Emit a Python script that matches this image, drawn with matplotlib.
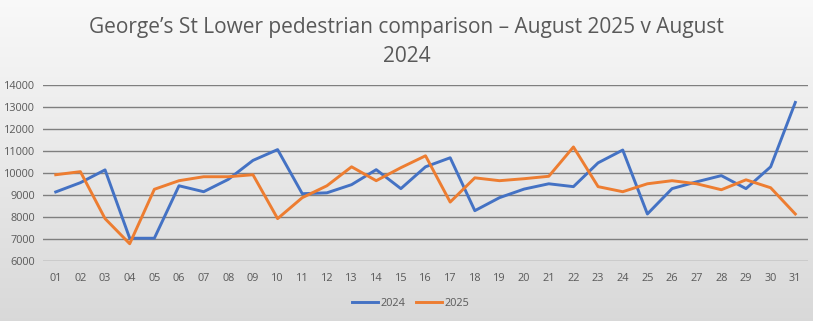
import matplotlib
matplotlib.use("Agg")
import matplotlib.pyplot as plt
import numpy as np
from matplotlib.lines import Line2D

days = ["01","02","03","04","05","06","07","08","09","10","11","12","13","14","15","16",
        "17","18","19","20","21","22","23","24","25","26","27","28","29","30","31"]
y2024 = [9150, 9570, 10150, 7050, 7050, 9430, 9160, 9720, 10580, 11070, 9070, 9110, 9480, 10160,
         9300, 10290, 10700, 8300, 8890, 9280, 9520, 9390, 10470, 11050, 8150, 9300, 9610, 9890,
         9300, 10290, 13210]
y2025 = [9930, 10070, 7940, 6800, 9270, 9660, 9840, 9840, 9930, 7940, 8890, 9430, 10290, 9660,
         10250, 10790, 8690, 9790, 9660, 9750, 9860, 11190, 9390, 9160, 9520, 9660, 9520, 9250,
         9700, 9340, 8150]
series_names = ["2024", "2025"]
yticks = [6000, 7000, 8000, 9000, 10000, 11000, 12000, 13000, 14000]
title = "George\u2019s St Lower pedestrian comparison \u2013 August 2025 v August\n2024"

plt.rcParams['font.family'] = ['Open Sans', 'DejaVu Sans']
txt = '#595959'

fig = plt.figure(figsize=(8.13, 3.21), dpi=100)
bg = fig.add_axes([0, 0, 1, 1], zorder=-10)
grad = np.linspace(0, 1, 256).reshape(-1, 1)
top = np.array([0.975, 0.975, 0.975])
bot = np.array([0.85, 0.85, 0.85])
img = top[None, None, :] * (1 - grad[:, :, None]) + bot[None, None, :] * grad[:, :, None]
bg.imshow(img, aspect='auto', extent=[0, 1, 0, 1])
bg.set_axis_off()

ax = fig.add_axes([0.0534, 0.1857, 0.9400, 0.5495])
ax.patch.set_alpha(0)
x = np.arange(len(days))
ax.plot(x, y2024, color='#4472C4', lw=2.1, label=series_names[0], solid_joinstyle='round', zorder=3)
ax.plot(x, y2025, color='#ED7D31', lw=2.1, label=series_names[1], solid_joinstyle='round', zorder=3)
ax.set_xlim(-0.5, len(days) - 0.5)
ax.set_ylim(6000, 14000)
ax.set_yticks(yticks)
ax.set_xticks(x)
ax.set_xticklabels(days)
for s in ax.spines.values():
    s.set_visible(False)
ax.grid(axis='y', color='#7f7f7f', lw=1.0, zorder=1)
ax.tick_params(axis='both', length=0, labelsize=7.8, colors=txt)
ax.tick_params(axis='x', pad=8)
ax.tick_params(axis='y', pad=6)

fig.text(0.5, 0.868, title, ha='center', va='center', fontsize=15, color=txt, linespacing=1.5)

handles = [Line2D([], [], color='#4472C4', lw=2.1), Line2D([], [], color='#ED7D31', lw=2.1)]
fig.legend(handles, series_names, loc='center', bbox_to_anchor=(0.505, 0.055), ncol=2, frameon=False,
           fontsize=7.8, labelcolor=txt, handlelength=2.4, handletextpad=0.2, columnspacing=1.0)

fig.savefig('out.png', dpi=100)
